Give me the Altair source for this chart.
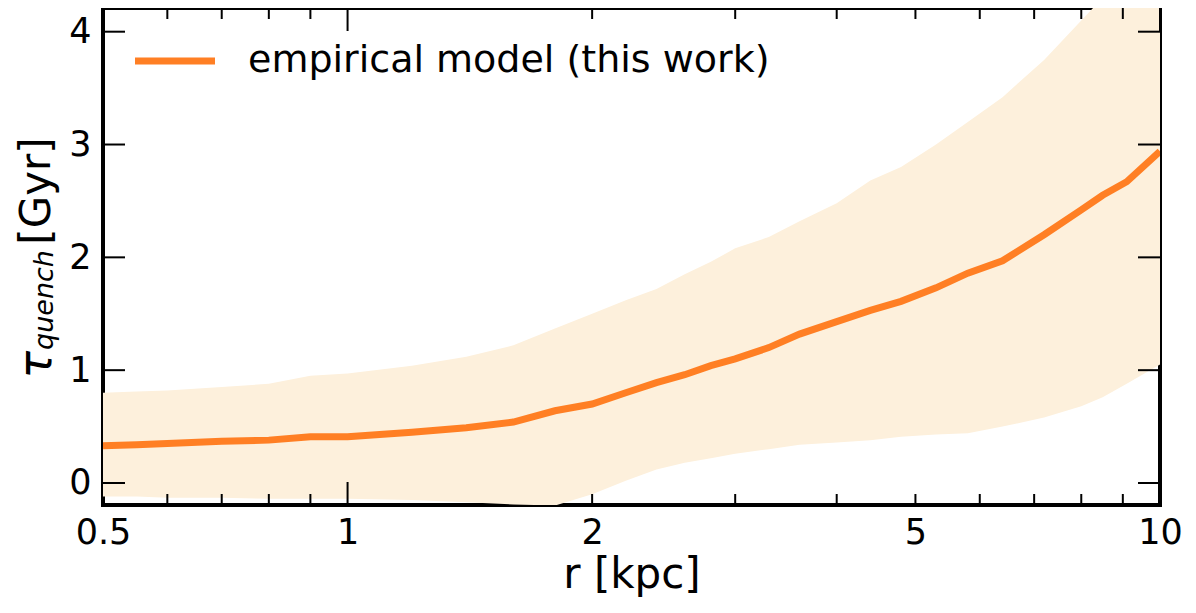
import altair as alt
import pandas as pd

r = [0.5, 0.55, 0.6, 0.7, 0.8, 0.9, 1.0, 1.2, 1.4, 1.6, 1.8, 2.0, 2.2, 2.4, 2.6, 2.8, 3.0,
     3.3, 3.6, 4.0, 4.4, 4.8, 5.3, 5.8, 6.4, 7.2, 8.0, 8.5, 9.1, 10.0]
tau = [0.33, 0.34, 0.35, 0.37, 0.38, 0.41, 0.41, 0.45, 0.49, 0.54, 0.64, 0.70, 0.80, 0.89,
       0.96, 1.04, 1.10, 1.20, 1.32, 1.43, 1.53, 1.61, 1.73, 1.86, 1.97, 2.20, 2.42, 2.55,
       2.67, 2.94]
upper = [0.80, 0.81, 0.82, 0.85, 0.88, 0.95, 0.97, 1.04, 1.12, 1.22, 1.37, 1.50, 1.62, 1.72,
         1.85, 1.96, 2.08, 2.18, 2.32, 2.48, 2.68, 2.80, 3.00, 3.20, 3.42, 3.75, 4.10, 4.30,
         4.50, 4.80]
lower = [-0.12, -0.12, -0.13, -0.13, -0.14, -0.14, -0.14, -0.15, -0.17, -0.19, -0.20, -0.10,
         0.02, 0.12, 0.18, 0.22, 0.26, 0.30, 0.34, 0.36, 0.38, 0.41, 0.43, 0.44, 0.50, 0.58,
         0.68, 0.76, 0.88, 1.05]

x_major = [1, 10]
x_minor = [0.6, 0.7, 0.8, 0.9, 2, 3, 4, 5, 6, 7, 8, 9]
x_labels = [0.5, 1, 2, 5, 10]
y_ticks = [0, 1, 2, 3, 4]

df = pd.DataFrame({'r': r, 'tau': tau, 'upper': upper, 'lower': lower})

FONT = 'DejaVu Sans'
xs = alt.Scale(type='log', domain=[0.5, 10], nice=False)
ys = alt.Scale(domain=[-0.195, 4.21], nice=False)

band = alt.Chart(df).mark_area(color='#fdf0dc', clip=True).encode(
    x=alt.X('r:Q', scale=xs,
            axis=alt.Axis(values=x_labels, labelExpr="datum.value", title='r [kpc]',
                          labelFlush=False, labelOverlap=False, labelPadding=10)),
    y=alt.Y('lower:Q', scale=ys,
            axis=alt.Axis(values=y_ticks, format='d', title=None, labelPadding=12)),
    y2='upper:Q'
)

line = alt.Chart(df).mark_line(color='#ff7f24', strokeWidth=7, clip=True).encode(
    x=alt.X('r:Q', scale=xs), y=alt.Y('tau:Q', scale=ys)
)


def xticks(vals, size):
    d = pd.DataFrame({'v': vals})
    b = alt.Chart(d).mark_rule(color='black', strokeWidth=2)
    bot = b.encode(x=alt.X('v:Q', scale=xs), y=alt.value(497), y2=alt.value(497 - size))
    top = b.encode(x=alt.X('v:Q', scale=xs), y=alt.value(0), y2=alt.value(size))
    return bot + top


yt = pd.DataFrame({'v': y_ticks})
ytb = alt.Chart(yt).mark_rule(color='black', strokeWidth=2)
yleft = ytb.encode(y=alt.Y('v:Q', scale=ys), x=alt.value(0), x2=alt.value(22))
yright = ytb.encode(y=alt.Y('v:Q', scale=ys), x=alt.value(1057), x2=alt.value(1035))

leg_line = alt.Chart(pd.DataFrame({'a': [0]})).mark_rule(color='#ff7f24', strokeWidth=7).encode(
    x=alt.value(32), x2=alt.value(112), y=alt.value(53))
leg_text = alt.Chart(pd.DataFrame({'t': ['empirical model (this work)']})).mark_text(
    align='left', baseline='middle', fontSize=38, font=FONT).encode(
    text='t:N', x=alt.value(145), y=alt.value(53))


def ylab(t, x, y, size, italic=False):
    return alt.Chart(pd.DataFrame({'t': [t]})).mark_text(
        angle=270, align='center', baseline='middle', fontSize=size, font=FONT,
        fontStyle='italic' if italic else 'normal').encode(
        text='t:N', x=alt.value(x), y=alt.value(y))


ytitle = (ylab('τ', -66, 357, 46, True) + ylab('quench', -58, 292, 27, True)
          + ylab('[Gyr]', -66, 183, 42))

chart = alt.layer(
    band, line, xticks(x_major, 23), xticks(x_minor, 11), yleft, yright,
    leg_line, leg_text, ytitle
).properties(
    width=1057, height=497,
    autosize=alt.AutoSizeParams(type='none'),
    padding={'left': 95, 'top': 0, 'right': 28, 'bottom': 100}
).configure_axis(
    ticks=False, domain=False, grid=False, labelFontSize=35, labelFont=FONT,
    labelColor='black', titleFontSize=42, titleFont=FONT, titleFontWeight='normal',
    titleColor='black', titlePadding=4
).configure_view(stroke='black', strokeWidth=4)

chart.save("out.html", embed_options={"renderer": "svg", "actions": False})
